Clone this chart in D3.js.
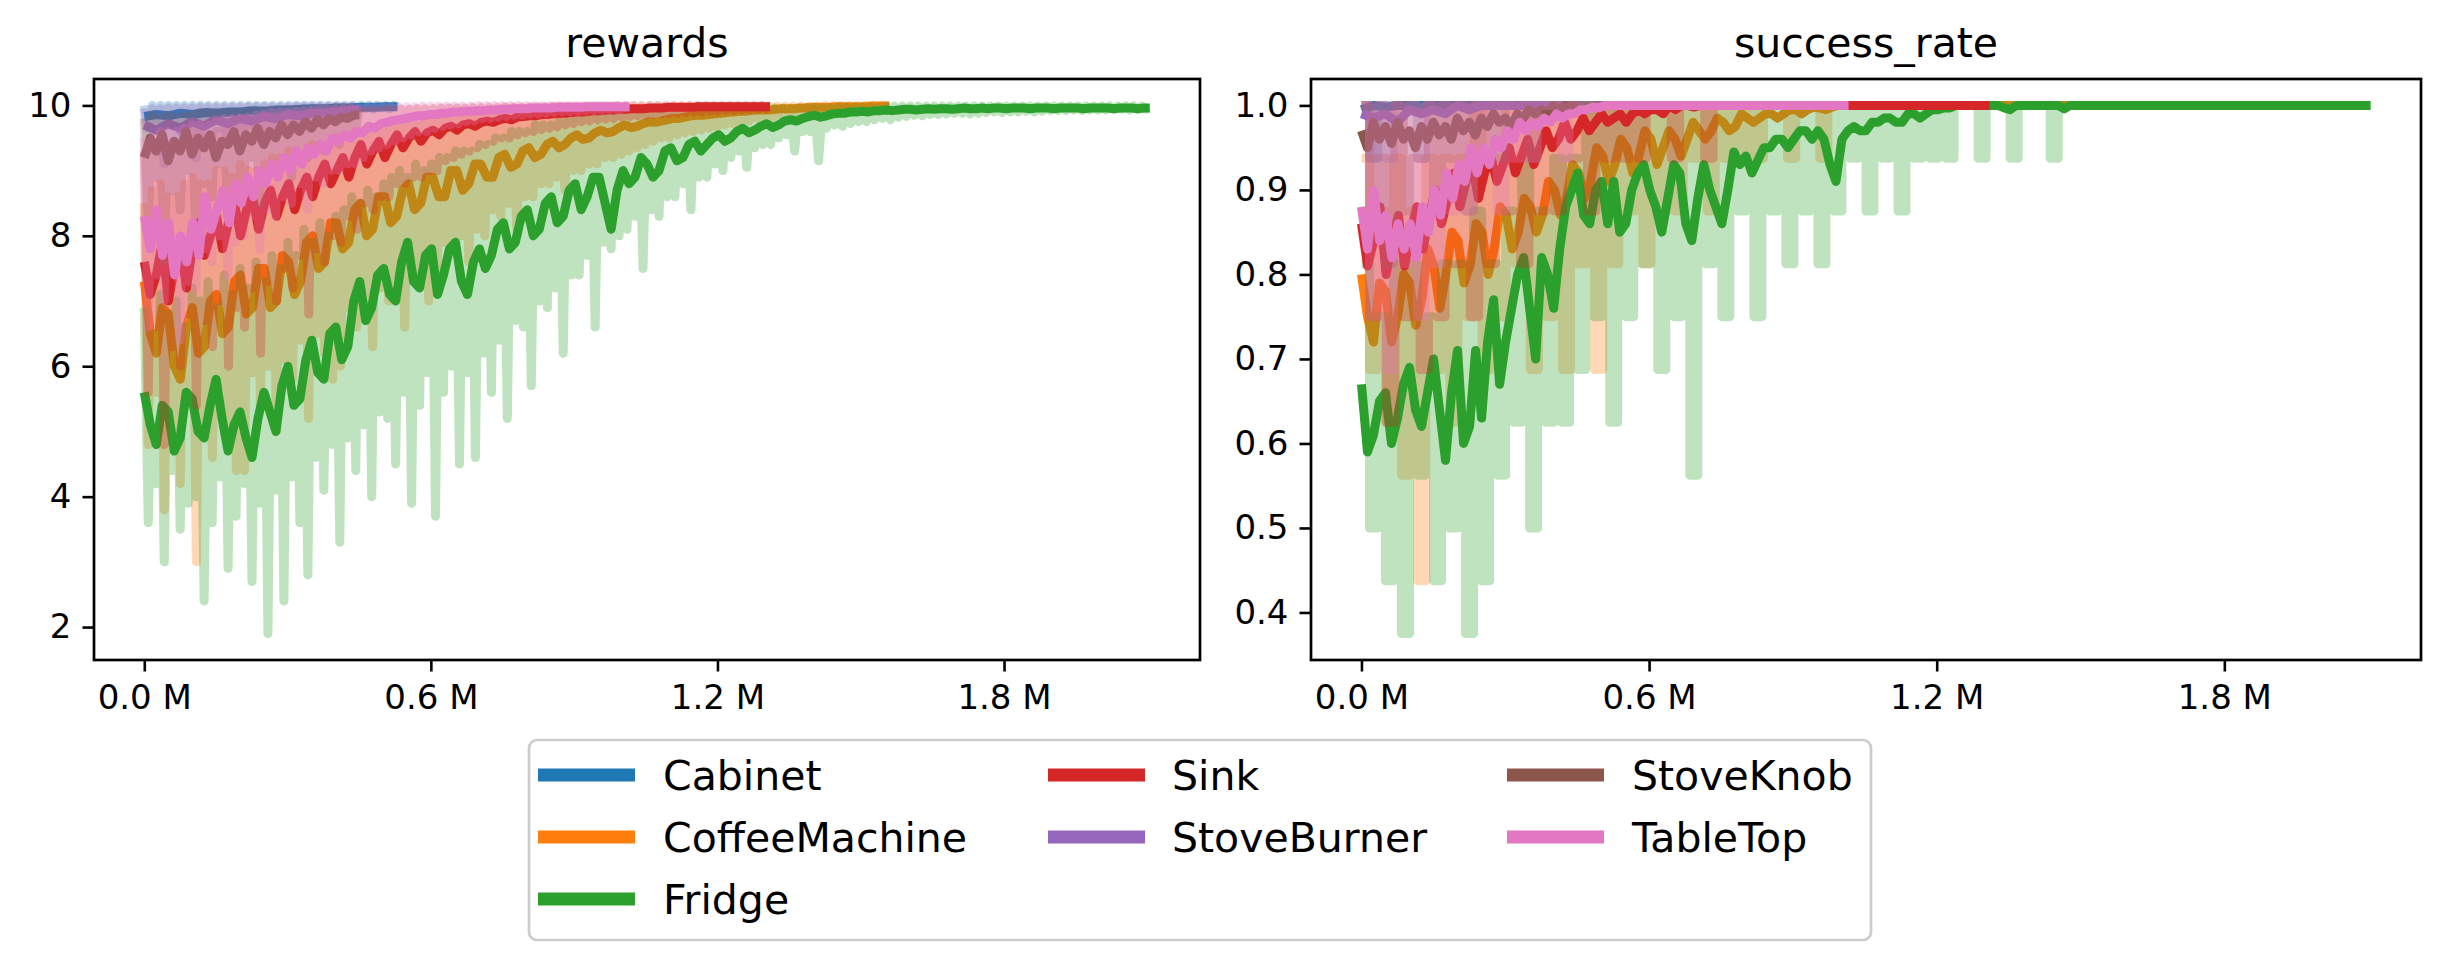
<!DOCTYPE html>
<html><head><meta charset="utf-8">
<script src="https://cdn.jsdelivr.net/npm/d3@7"></script>
<style>body{margin:0;background:#fff} svg{display:block}</style>
</head><body>
<svg id="chart" width="2447" height="963"></svg>
<script>
// ---------------- DATA ----------------
const categories = ["Cabinet","CoffeeMachine","Fridge","Sink","StoveBurner","StoveKnob","TableTop"];
const colors = ["#1f77b4","#ff7f0e","#2ca02c","#d62728","#9467bd","#8c564b","#e377c2"];
// last training step (millions) reached by each task
const seriesEndM = [0.53, 1.56, 2.105, 1.31, 0.45, 0.45, 1.016];

const xTickValues = [0, 0.6, 1.2, 1.8];
const xTickLabels = ["0.0 M","0.6 M","1.2 M","1.8 M"];
const rewardTicks = [2, 4, 6, 8, 10];
const rewardTickLabels = ["2","4","6","8","10"];
const successTicks = [0.4, 0.5, 0.6, 0.7, 0.8, 0.9, 1.0];
const successTickLabels = ["0.4","0.5","0.6","0.7","0.8","0.9","1.0"];

// ---- rewards: smoothed curves ----
const cabinetRewardSmooth = [9.83,9.86,9.84,9.88,9.86,9.89,9.88,9.9,9.9,9.92,9.91,9.93,9.93,9.94,9.95,9.95,9.96,9.96,9.97,9.97,9.98,9.98];
const coffeeRewardSmooth = [7.3,6.5,6.2,6.9,6.8,6.0,5.8,6.6, 6.9,6.2,6.3,7.0,7.1,6.5,6.6,7.3, 7.4,6.8,6.9,7.5,7.5,6.9,7.0,7.7, 7.6,7.1,7.3,7.9,8.0,7.5,7.6,8.2, 8.2,7.8,7.9,8.4,8.5,8.0,8.1,8.6, 8.6,8.2,8.3,8.7,8.8,8.4,8.5,8.9, 8.9,8.6,8.6,9.0,9.0,8.7,8.8,9.1, 9.1,8.9,8.9,9.2,9.25,9.05,9.1,9.3, 9.35,9.2,9.25,9.4,9.45,9.35,9.4,9.5, 9.55,9.48,9.5,9.58,9.62,9.58,9.6,9.66, 9.7,9.66,9.68,9.72,9.75,9.74,9.76,9.78, 9.8,9.8,9.82,9.84,9.85,9.85,9.86,9.87, 9.88,9.89,9.9,9.91,9.91,9.92,9.93,9.93, 9.93,9.94,9.95,9.95,9.95,9.96,9.96,9.97, 9.97,9.97,9.97,9.98,9.98,9.98,9.98,9.98, 9.98,9.99,9.99,9.99,9.99];
const fridgeRewardSmooth = [5.6,5.1,4.8,5.4,5.3,4.7,4.9,5.6,5.5,5.0, 4.9,5.4,5.8,5.2,4.7,5.1,5.3,4.9,4.6,5.2, 5.6,5.3,5.0,5.7,6.0,5.4,5.5,6.1,6.4,5.9, 5.8,6.5,6.6,6.1,6.3,7.0,7.3,6.7,6.9,7.4, 7.5,7.1,7.0,7.6,7.9,7.3,7.2,7.7,7.8,7.1, 7.4,7.8,7.9,7.3,7.1,7.6,7.8,7.5,7.7,8.1, 8.2,7.8,7.9,8.3,8.4,8.0,8.1,8.5,8.6,8.2, 8.3,8.7,8.8,8.4,8.6,8.9,8.9,8.5,8.1,8.7, 9.0,8.8,8.9,9.2,9.1,8.9,9.0,9.3,9.35,9.15, 9.2,9.4,9.45,9.3,9.4,9.5,9.55,9.45,9.5,9.6, 9.65,9.58,9.62,9.68,9.72,9.66,9.7,9.76,9.78,9.76, 9.8,9.83,9.85,9.82,9.84,9.87,9.88,9.88,9.9,9.9, 9.91,9.9,9.92,9.92,9.93,9.92,9.93,9.94,9.94,9.93, 9.94,9.95,9.94,9.95,9.95,9.94,9.95,9.96,9.95,9.95, 9.96,9.95,9.96,9.96,9.95,9.96,9.96,9.96,9.95,9.96, 9.96,9.96,9.95,9.96,9.96,9.96,9.96,9.95,9.96,9.96, 9.96,9.96,9.95,9.96,9.96,9.96,9.95,9.96,9.96];
const sinkRewardSmooth = [7.6,7.1,7.4,7.9,7.0,7.5,7.9,7.2, 7.8,8.2,7.7,8.0,8.3,7.8,8.2,8.5, 8.0,8.4,8.6,8.1,8.5,8.7,8.3,8.6, 8.8,8.4,8.7,8.9,8.6,8.9,9.1,8.8, 9.0,9.2,8.9,9.2,9.4,9.1,9.3,9.45, 9.2,9.4,9.55,9.35,9.5,9.6,9.45,9.58, 9.62,9.55,9.65,9.68,9.62,9.7,9.72,9.68, 9.74,9.76,9.74,9.78,9.8,9.78,9.82,9.83, 9.84,9.84,9.86,9.86,9.87,9.88,9.88,9.89, 9.9,9.9,9.91,9.92,9.92,9.93,9.93,9.94, 9.94,9.95,9.95,9.95,9.96,9.96,9.96,9.97, 9.97,9.97,9.97,9.97,9.98,9.98,9.98,9.98, 9.98,9.98,9.98,9.98,9.98,9.98,9.98,9.98,9.98];
const burnerRewardSmooth = [9.7,9.62,9.72,9.65,9.75,9.68,9.78,9.72,9.8,9.76,9.83,9.8,9.86,9.84,9.88,9.88,9.9,9.92,9.93];
const knobRewardSmooth = [9.2,9.5,9.3,9.55,9.15,9.45,9.3,9.6,9.25,9.5,9.35,9.55,9.2,9.45,9.4,9.6,9.3,9.55,9.45,9.65,9.4,9.6,9.5,9.7,9.55,9.7,9.6,9.75,9.65,9.78,9.7,9.8,9.75,9.82,9.8,9.85,9.86];
const tableRewardSmooth = [8.3,7.8,8.4,7.7,8.2,7.4,8.0,7.6, 8.2,7.7,8.6,8.1,8.4,8.7,8.2,8.8, 8.5,8.9,8.6,9.0,8.8,9.1,8.9,9.2, 9.0,9.3,9.1,9.35,9.25,9.4,9.3,9.5, 9.45,9.55,9.5,9.6,9.58,9.68,9.65,9.72, 9.74,9.77,9.78,9.8,9.82,9.84,9.84,9.86, 9.86,9.88,9.88,9.9,9.9,9.91,9.91,9.92, 9.92,9.93,9.93,9.94,9.94,9.95,9.95,9.95, 9.96,9.96,9.96,9.96,9.97,9.97,9.97,9.97, 9.97,9.98,9.98,9.98,9.98,9.98,9.98,9.98,9.98];

// ---- rewards: raw curves ----
const cabinetRewardRaw = [10.0,9.65,10.0,9.78,10.0,9.7,10.0,9.8,10.0,9.6,10.0,9.78,10.0,9.72,10.0,9.82,10.0,9.75,10.0,9.84,10.0,9.78,10.0,9.85,10.0,9.8,10.0,9.86,10.0,9.82,10.0,9.88,10.0,9.85,10.0,9.9,10.0,9.86,10.0,9.9,10.0,9.88,10.0,9.92,10.0,9.9,10.0,9.93,10.0,9.92,10.0,9.94,10.0,9.93,10.0,9.95,10.0,9.94,10.0,9.96,10.0,9.95,10.0,9.97];
const coffeeRewardRaw = [8.5,4.8,8.7,5.6,8.8,3.8,8.6,5.0,8.6,4.2,8.8,5.5, 8.9,3.0,8.8,5.2,8.8,4.6,9.0,5.7,9.0,5.0,8.9,4.4, 9.1,4.4,9.0,5.9,9.0,5.4,9.1,6.0,9.2,5.0,9.2,6.1, 9.3,5.8,9.3,6.4,9.2,5.2,9.4,6.5,9.4,6.2,9.4,5.8, 9.5,6.0,9.5,6.9,9.5,6.6,9.6,7.0,9.6,6.3,9.6,7.2, 9.6,7.0,9.7,7.4,9.7,6.6,9.7,7.6,9.7,7.4,9.75,7.0, 9.75,7.2,9.8,7.9,9.8,7.8,9.8,8.0,9.8,7.6,9.85,8.1, 9.85,8.0,9.85,8.4,9.85,8.3,9.9,8.5,9.9,8.1,9.9,8.6, 9.9,8.6,9.9,8.8,9.9,8.8,9.92,8.9,9.92,8.7,9.92,9.0, 9.93,9.0,9.94,9.1,9.94,9.1,9.94,9.2,9.95,9.2,9.95,9.25, 9.95,9.3,9.96,9.35,9.96,9.4,9.96,9.45,9.96,9.5,9.97,9.5, 9.97,9.55,9.97,9.58,9.97,9.6,9.98,9.62,9.98,9.65,9.98,9.66, 9.98,9.7,9.98,9.72,9.98,9.75,9.99,9.76,9.99,9.8,9.99,9.8, 9.99,9.82,9.99,9.84,9.99,9.85,9.99,9.86,9.99,9.87,9.99,9.88, 9.99,9.9,10.0,9.9,10.0,9.9,10.0,9.91,10.0,9.92,10.0,9.92, 10.0,9.93,10.0,9.94,10.0,9.95,9.98];
const fridgeRewardRaw = [6.9,3.6,6.5,4.2,7.1,3.0,6.8,4.4,7.0,3.5,6.6,3.9, 7.2,4.0,7.0,2.4,7.3,3.6,6.9,4.3,7.4,2.9,7.1,3.7, 7.5,4.2,7.2,2.7,7.6,3.9,7.3,1.9,7.7,4.1,7.5,2.4, 7.9,4.3,7.7,3.6,8.1,2.8,7.9,4.6,8.2,4.1,8.0,4.8, 8.3,3.3,8.4,4.9,8.6,4.4,8.5,5.1,8.7,4.0,8.6,5.3, 8.8,5.2,8.9,4.5,9.0,5.6,8.9,3.9,9.1,5.4,9.0,5.9, 9.1,3.7,9.2,5.6,9.2,6.0,9.3,4.5,9.3,5.9,9.3,4.6, 9.4,6.2,9.4,5.6,9.5,6.4,9.5,5.2,9.6,6.7,9.6,6.6, 9.6,5.7,9.7,7.0,9.7,6.9,9.7,7.2,9.75,6.2,9.75,7.4, 9.8,7.4,9.8,7.7,9.8,6.6,9.85,7.9,9.85,7.8,9.85,8.0, 9.85,8.1,9.88,8.3,9.9,7.5,9.9,8.4,9.9,8.3,9.9,8.6, 9.9,8.6,9.92,8.8,9.92,8.4,9.92,8.9,9.93,8.9,9.93,9.1, 9.93,9.0,9.94,9.2,9.94,9.3,9.95,9.05,9.95,9.35,9.95,9.4, 9.95,9.4,9.96,9.5,9.96,9.55,9.96,9.3,9.96,9.6,9.97,9.6, 9.97,9.15,9.97,9.65,9.97,9.7,9.98,9.68,9.98,9.72,9.98,9.75, 9.98,9.75,9.98,9.78,9.98,9.8,9.99,9.78,9.99,9.82,9.99,9.83, 9.99,9.85,9.99,9.84,9.99,9.86,9.99,9.86,9.99,9.87,9.99,9.88, 9.99,9.88,9.99,9.87,9.99,9.88,9.99,9.89,9.99,9.9,9.99,9.89, 9.99,9.9,9.99,9.9,9.99,9.91,9.99,9.9,9.99,9.91,9.99,9.92, 9.99,9.92,9.99,9.92,9.99,9.93,9.99,9.92,9.99,9.93,9.99,9.93, 9.99,9.93,9.99,9.94,9.99,9.94,9.99,9.93,9.99,9.94,9.99,9.94,9.96];
const sinkRewardRaw = [9.3,5.6,9.4,6.6,9.5,4.8,9.4,6.3,9.4,6.0,9.5,6.8, 9.6,5.4,9.6,6.7,9.5,6.3,9.6,7.0,9.7,6.0,9.7,6.9, 9.7,6.6,9.75,7.2,9.75,6.2,9.78,7.3,9.8,7.0,9.8,7.5, 9.8,7.2,9.82,7.7,9.85,6.8,9.85,7.8,9.85,7.6,9.88,8.0, 9.9,7.9,9.9,8.3,9.9,8.1,9.91,8.5,9.92,8.4,9.92,8.6, 9.93,8.6,9.93,8.8,9.94,8.8,9.94,8.9,9.95,8.9,9.95,9.0, 9.95,9.0,9.96,9.15,9.96,9.2,9.96,9.25,9.96,9.3,9.97,9.35, 9.97,9.4,9.97,9.45,9.97,9.5,9.98,9.5,9.98,9.55,9.98,9.58, 9.98,9.6,9.98,9.63,9.98,9.65,9.99,9.67,9.99,9.7,9.99,9.72, 9.99,9.75,9.99,9.76,9.99,9.78,9.99,9.79,9.99,9.8,10.0,9.82, 10.0,9.83,10.0,9.84,10.0,9.85,10.0,9.86,10.0,9.87,10.0,9.88, 10.0,9.88,10.0,9.89,10.0,9.9,10.0,9.9,10.0,9.91,10.0,9.91, 10.0,9.92,10.0,9.92,10.0,9.93,10.0,9.94,10.0,9.94,10.0,9.95,9.97];
const burnerRewardRaw = [9.95,9.3,9.95,9.6,9.95,9.1,9.96,9.5,9.96,9.4,9.96,9.6,9.96,9.2,9.97,9.55,9.97,9.5,9.97,9.65,9.97,9.4,9.97,9.65,9.97,9.6,9.98,9.7,9.98,9.5,9.98,9.7,9.98,9.65,9.98,9.75,9.98,9.7,9.99,9.78,9.99,9.72,9.99,9.8,9.99,9.78,9.99,9.82,9.99,9.8,9.99,9.85,9.99,9.85,9.99];
const knobRewardRaw = [9.8,8.2,9.85,8.9,9.8,7.6,9.85,8.7,9.8,8.4,9.85,9.0,9.85,8.0,9.9,8.8,9.9,8.6,9.9,9.1,9.9,8.3,9.9,8.9,9.9,8.8,9.92,9.2,9.92,8.5,9.92,9.1,9.93,9.0,9.93,9.3,9.94,8.9,9.94,9.3,9.95,9.2,9.95,9.4,9.96,9.3,9.96,9.5,9.97,9.4,9.97,9.6,9.97,9.6,9.98];
const tableRewardRaw = [9.5,6.6,9.5,7.4,9.6,7.0,9.6,7.6,9.6,6.4,9.65,7.3, 9.7,7.2,9.7,7.8,9.7,7.6,9.75,8.0,9.8,7.4,9.8,7.9, 9.8,8.0,9.82,8.3,9.85,7.8,9.87,8.4,9.9,8.3,9.9,8.6, 9.9,8.5,9.91,8.8,9.92,8.4,9.93,8.9,9.95,8.8,9.95,9.0, 9.95,9.0,9.96,9.1,9.96,9.1,9.96,9.2,9.97,9.3,9.97,9.35, 9.98,9.4,9.98,9.45,9.98,9.5,9.98,9.55,9.98,9.6,9.99,9.6, 9.99,9.65,9.99,9.68,9.99,9.7,9.99,9.72,9.99,9.75,9.99,9.76, 10.0,9.8,10.0,9.8,10.0,9.82,10.0,9.83,10.0,9.85,10.0,9.85, 10.0,9.87,10.0,9.87,10.0,9.88,10.0,9.89,10.0,9.9,10.0,9.9, 10.0,9.9,10.0,9.91,10.0,9.92,10.0,9.92,10.0,9.93,10.0,9.93,9.96,9.97,9.97];

// ---- success_rate: smoothed curves ----
const cabinetSuccessSmooth = [0.995,1,0.998,1,1,1,1,1,1,1,1,1,1,1,1,1,1,1,1,1,1,1];
const coffeeSuccessSmooth = [0.80,0.75,0.72,0.79,0.78,0.72,0.75,0.80, 0.79,0.74,0.77,0.83,0.81,0.76,0.80,0.85, 0.84,0.79,0.81,0.86,0.85,0.80,0.83,0.88, 0.87,0.83,0.85,0.89,0.88,0.85,0.87,0.91, 0.90,0.87,0.89,0.93,0.92,0.89,0.91,0.95, 0.94,0.91,0.93,0.96,0.95,0.92,0.94,0.97, 0.96,0.93,0.95,0.97,0.96,0.94,0.96,0.98, 0.97,0.96,0.97,0.985,0.98,0.97,0.975,0.99, 0.985,0.98,0.985,0.99,0.99,0.985,0.99,0.995, 0.995,0.99,0.995,0.998,0.997,0.995,0.998,1, 1,1,1,1,1,1,1,1,1,1,1,1,1,1,1,1,1,1,1,1,1,1,1,1,1,1,1,1,1,1,1,1,1,1,1,1,1,1,1,1,1,1,1,1,1];
const fridgeSuccessSmooth = [0.67,0.59,0.61,0.65,0.66,0.60,0.63,0.67,0.69,0.64, 0.62,0.66,0.70,0.64,0.58,0.66,0.71,0.60,0.62,0.71, 0.63,0.72,0.77,0.67,0.72,0.76,0.80,0.82,0.76,0.70, 0.82,0.80,0.76,0.83,0.88,0.90,0.92,0.87,0.86,0.90, 0.91,0.86,0.91,0.85,0.86,0.90,0.92,0.93,0.90,0.88, 0.85,0.89,0.93,0.92,0.86,0.84,0.89,0.93,0.90,0.88, 0.86,0.90,0.945,0.93,0.94,0.92,0.935,0.95,0.95,0.96, 0.96,0.95,0.96,0.97,0.97,0.96,0.97,0.96,0.93,0.91, 0.96,0.97,0.975,0.97,0.97,0.98,0.98,0.985,0.985,0.98, 0.98,0.99,0.99,0.985,0.99,0.995,0.995,0.997,0.997,1, 1,1,1,1,1,1,1,0.997,0.995,1, 1,1,1,1,1,1,1,0.996,1,1, 1,1,1,1,1,1,1,1,1,1, 1,1,1,1,1,1,1,1,1,1, 1,1,1,1,1,1,1,1,1,1, 1,1,1,1,1,1,1,1,1,1, 1,1,1,1,1,1,1,1,1];
const sinkSuccessSmooth = [0.86,0.81,0.84,0.88,0.80,0.84,0.87,0.81, 0.85,0.88,0.83,0.87,0.90,0.86,0.89,0.92, 0.88,0.91,0.93,0.89,0.92,0.94,0.91,0.93, 0.95,0.92,0.94,0.96,0.93,0.95,0.97,0.95, 0.96,0.98,0.96,0.97,0.985,0.97,0.98,0.99, 0.98,0.985,0.99,0.98,0.99,0.995,0.99,0.995, 0.995,0.99,1,0.995,1,1,0.998,1, 1,1,1,1,1,1,1,1,1,1,1,1,1,1,1,1,1,1,1,1,1,1,1,1,1,1,1,1,1,1,1,1,1,1,1,1,1,1,1,1,1,1,1,1,1,1,1];
const burnerSuccessSmooth = [0.99,0.985,0.99,0.98,0.995,0.99,0.995,0.99,1,0.995,1,1,1,1,1,1,1,1,1];
const knobSuccessSmooth = [0.97,0.95,0.98,0.96,0.975,0.955,0.98,0.96,0.97,0.95,0.975,0.96,0.98,0.965,0.975,0.96,0.985,0.97,0.98,0.965,0.985,0.975,0.99,0.98,0.985,0.975,0.99,0.985,0.995,0.99,0.995,0.99,1,0.995,1,1,1];
const tableSuccessSmooth = [0.88,0.83,0.90,0.84,0.87,0.82,0.86,0.83, 0.86,0.82,0.88,0.85,0.90,0.87,0.92,0.89, 0.93,0.91,0.95,0.92,0.95,0.93,0.96,0.95, 0.97,0.96,0.98,0.97,0.98,0.975,0.985,0.98, 0.99,0.985,0.99,0.99,0.995,0.995,0.998,0.997, 1,1,1,1,1,1,1,1,1,1,1,1,1,1,1,1,1,1,1,1,1,1,1,1,1,1,1,1,1,1,1,1,1,1,1,1,1,1,1,1,1];

// ---- success_rate: raw curves (multiples of 1/16) ----
const cabinetSuccessRaw = [1,0.9375,1,1,1,1,1,1,1,1,1,1,1,1,1,1,1,1,1,1,1,1,1,1,1,1,1,1,1,1,1,1];
const coffeeSuccessRaw = [0.9375,0.6875,0.875,0.625,0.9375,0.5625, 0.875,0.4375,0.9375,0.6875,0.9375,0.625, 0.9375,0.75,1,0.6875,0.9375,0.75, 1,0.8125,1,0.6875,1,0.75, 1,0.6875,1,0.8125,1,0.6875, 1,0.8125,1,0.875,1,0.8125, 1,0.875,1,0.875,1,0.9375, 1,0.875,1,0.9375,1,0.9375, 1,0.9375,1,1,1,0.9375, 1,1,1,0.9375,1,1, 1,1,1,1,1,1,1,1,1,1,1,1,1,1,1,1,1,1,1,1,1,1,1,1,1,1,1,1,1,1,1,1,1,1];
const fridgeSuccessRaw = [0.8125,0.5,0.75,0.4375,0.8125,0.375, 0.8125,0.5625,0.75,0.4375,0.8125,0.5, 0.8125,0.375,0.875,0.4375,0.8125,0.5625, 0.875,0.625,0.9375,0.5,0.875,0.625, 0.9375,0.625,0.9375,0.6875,1,0.75, 1,0.625,1,0.75,1,0.8125, 1,0.6875,1,0.75,1,0.5625, 1,0.8125,1,0.75,1,0.875, 1,0.75,1,0.875,1,0.8125, 1,0.875,1,0.8125,1,0.875, 1,0.9375,1,0.875,1,0.9375, 1,0.875,1,0.9375,1,0.9375, 1,0.9375,1,1,1,0.9375, 1,1,1,0.9375,1,1, 1,1,0.9375,1,1,1, 1,1,1,1,1,1,1,1,1,1,1,1,1,1,1,1,1,1,1,1,1,1,1,1,1,1,1,1,1,1,1,1,1,1,1,1,1];
const sinkSuccessRaw = [1,0.75,0.9375,0.625,1,0.75, 0.9375,0.6875,1,0.75,1,0.8125, 1,0.75,1,0.8125,1,0.875, 1,0.8125,1,0.875,1,0.875, 1,0.9375,1,0.875,1,0.9375, 1,0.9375,1,0.9375,1,1, 1,0.9375,1,1,1,0.9375, 1,1,1,1,1,1,1,1,1,1,1,1,1,1,1,1,1,1,1,1,1,1,1,1,1,1,1,1,1,1,1,1,1,1];
const burnerSuccessRaw = [1,0.9375,1,0.9375,1,1,1,0.9375,1,1,1,1,1,1,1,1,1,1,1,1,1,1,1,1,1,1,1,1];
const knobSuccessRaw = [1,0.875,1,0.8125,1,0.875,1,0.9375,1,0.875,1,0.9375,1,0.875,1,0.9375,1,0.9375,1,1,1,0.9375,1,1,1,1,1,1];
const tableSuccessRaw = [1,0.75,1,0.6875,1,0.8125, 1,0.75,1,0.8125,1,0.875, 1,0.875,1,0.9375,1,0.875, 1,0.9375,1,0.9375,1,1, 1,0.9375,1,1,1,1, 1,1,1,1,1,1,1,1,1,1,1,1,1,1,1,1,1,1,1,1,1,1,1,1,1,1,1,1,1,1,1,1];

// ---------------- DRAWING ----------------
const svg = d3.select("#chart");
const FONT = "'DejaVu Sans', sans-serif";
const plotTop = 79, plotBottom = 660;

const panels = [
  { title: "rewards", x0: 94, x1: 1200, rawCurve: d3.curveLinear,
    yTicks: rewardTicks, yLabels: rewardTickLabels,
    smooth: [cabinetRewardSmooth, coffeeRewardSmooth, fridgeRewardSmooth, sinkRewardSmooth, burnerRewardSmooth, knobRewardSmooth, tableRewardSmooth],
    raw: [cabinetRewardRaw, coffeeRewardRaw, fridgeRewardRaw, sinkRewardRaw, burnerRewardRaw, knobRewardRaw, tableRewardRaw] },
  { title: "success_rate", x0: 1311, x1: 2421, rawCurve: d3.curveStepAfter,
    yTicks: successTicks, yLabels: successTickLabels,
    smooth: [cabinetSuccessSmooth, coffeeSuccessSmooth, fridgeSuccessSmooth, sinkSuccessSmooth, burnerSuccessSmooth, knobSuccessSmooth, tableSuccessSmooth],
    raw: [cabinetSuccessRaw, coffeeSuccessRaw, fridgeSuccessRaw, sinkSuccessRaw, burnerSuccessRaw, knobSuccessRaw, tableSuccessRaw] }
];

const xMax = d3.max(seriesEndM);

panels.forEach((p, pi) => {
  const all = p.raw.flat().concat(p.smooth.flat());
  const [mn, mx] = d3.extent(all);
  const pad = (mx - mn) * 0.05;
  const y = d3.scaleLinear().domain([mn - pad, mx + pad]).range([plotBottom, plotTop]);
  const x = d3.scaleLinear().domain([-xMax * 0.05, xMax * 1.05]).range([p.x0, p.x1]);

  const clipId = "clip" + pi;
  svg.append("clipPath").attr("id", clipId).append("rect")
    .attr("x", p.x0).attr("y", plotTop).attr("width", p.x1 - p.x0).attr("height", plotBottom - plotTop);

  const g = svg.append("g").attr("clip-path", `url(#${clipId})`);

  categories.forEach((c, i) => {
    const xAt = (d, j, arr) => x(seriesEndM[i] * j / (arr.length - 1));
    const rawLine = d3.line().x(xAt).y(d => y(d)).curve(p.rawCurve);
    const smoothLine = d3.line().x(xAt).y(d => y(d));
    g.append("path").datum(p.raw[i])
      .attr("d", rawLine).attr("fill", "none")
      .attr("stroke", colors[i]).attr("stroke-opacity", 0.3)
      .attr("stroke-width", 9).attr("stroke-linejoin", "round").attr("stroke-linecap", "butt");
    g.append("path").datum(p.smooth[i])
      .attr("d", smoothLine).attr("fill", "none")
      .attr("stroke", colors[i])
      .attr("stroke-width", 9).attr("stroke-linejoin", "round").attr("stroke-linecap", "butt");
  });

  // axes
  const yAxis = d3.axisLeft(y).tickValues(p.yTicks)
    .tickFormat(d => p.yLabels[p.yTicks.indexOf(d)])
    .tickSize(11.5).tickPadding(11);
  const gy = svg.append("g").attr("transform", `translate(${p.x0},0)`).call(yAxis);
  gy.attr("font-size", 34).attr("font-family", FONT);
  gy.select(".domain").remove();
  gy.selectAll(".tick line").attr("stroke", "#000").attr("stroke-width", 2.6);
  gy.selectAll(".tick text").attr("fill", "#000");

  const xAxis = d3.axisBottom(x).tickValues(xTickValues)
    .tickFormat(d => xTickLabels[xTickValues.indexOf(d)])
    .tickSize(11.5).tickPadding(13);
  const gx = svg.append("g").attr("transform", `translate(0,${plotBottom})`).call(xAxis);
  gx.attr("font-size", 34).attr("font-family", FONT);
  gx.select(".domain").remove();
  gx.selectAll(".tick line").attr("stroke", "#000").attr("stroke-width", 2.6);
  gx.selectAll(".tick text").attr("fill", "#000");

  // frame
  svg.append("rect").attr("x", p.x0).attr("y", plotTop)
    .attr("width", p.x1 - p.x0).attr("height", plotBottom - plotTop)
    .attr("fill", "none").attr("stroke", "#000").attr("stroke-width", 2.7);

  // title
  svg.append("text").attr("x", (p.x0 + p.x1) / 2).attr("y", 57)
    .attr("text-anchor", "middle").attr("font-family", FONT).attr("font-size", 41)
    .attr("fill", "#000").text(p.title);
});

// legend
const legend = svg.append("g");
legend.append("rect").attr("x", 529).attr("y", 740).attr("width", 1342).attr("height", 200)
  .attr("rx", 8).attr("fill", "#fff").attr("fill-opacity", 0.8)
  .attr("stroke", "#cccccc").attr("stroke-width", 2.7);
const colHandleX = [538, 1048, 1507];
const colTextX = [663, 1172, 1632];
const rowY = [775, 837, 899];
const perCol = [3, 2, 2];
let k = 0;
perCol.forEach((n, col) => {
  for (let r = 0; r < n; r++, k++) {
    legend.append("rect").attr("x", colHandleX[col]).attr("y", rowY[r] - 6.5)
      .attr("width", 97).attr("height", 13).attr("fill", colors[k]);
    legend.append("text").attr("x", colTextX[col]).attr("y", rowY[r] + 14.5)
      .attr("font-family", FONT).attr("font-size", 41).attr("fill", "#000").text(categories[k]);
  }
});
</script>
</body></html>
